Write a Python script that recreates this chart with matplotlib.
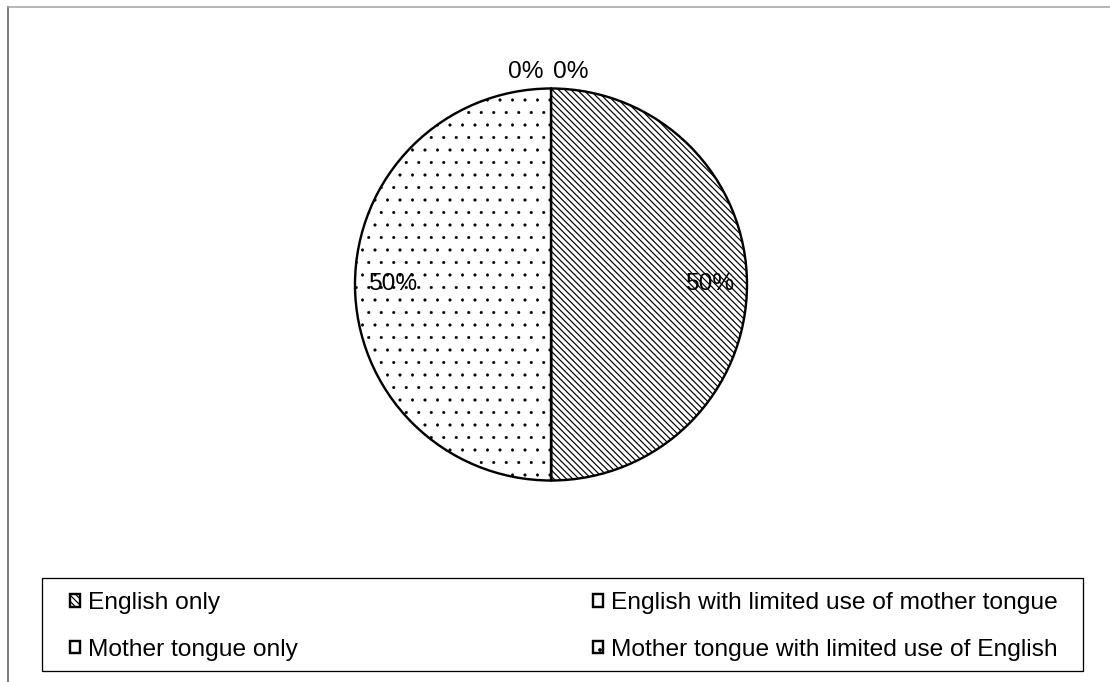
import matplotlib.pyplot as plt
from matplotlib.lines import Line2D
from matplotlib.patches import Rectangle

categories = ['English only', 'English with limited use of mother tongue',
              'Mother tongue only', 'Mother tongue with limited use of English']
shares = [50, 0, 0, 50]
BACKSLASH = chr(92)
hatches = [BACKSLASH * 8, '', '', '..']
hatch_widths = [1.2, 1.2, 1.2, 0.5]   # px

DPI = 150
W, H = 1110, 682
FONT_PX = 24.5


def pt(px):
    # pixel size -> points at the figure dpi
    return px * 72 / DPI


plt.rcParams['font.family'] = ['Liberation Sans', 'DejaVu Sans']
plt.rcParams['hatch.color'] = 'black'
plt.rcParams['hatch.linewidth'] = pt(1.2)

fig = plt.figure(figsize=(W / DPI, H / DPI), dpi=DPI)

# pie centre and radius in pixels
cx, cy, r = 551, 284.5, 196
lim = 1.05
side = 2 * lim * r
ax = fig.add_axes([(cx - side / 2) / W, (H - cy - side / 2) / H, side / W, side / H])

wedges, texts, autotexts = ax.pie(
    shares, startangle=90, counterclock=False, colors=['white'] * 4,
    autopct='%.0f%%', pctdistance=0.81,
    wedgeprops=dict(edgecolor='black', linewidth=pt(2.4)),
    textprops=dict(fontsize=pt(FONT_PX), color='black'))
for w, h, hw in zip(wedges, hatches, hatch_widths):
    w.set_hatch(h)
    if hasattr(w, 'set_hatch_linewidth'):
        w.set_hatch_linewidth(pt(hw))
ax.set_xlim(-lim, lim)
ax.set_ylim(-lim, lim)

# the two empty slices get their labels above the pie
autotexts[1].set_position((-0.04, 1.054))
autotexts[1].set_ha('right')
autotexts[1].set_va('baseline')
autotexts[2].set_position((0.01, 1.054))
autotexts[2].set_ha('left')
autotexts[2].set_va('baseline')

# legend, two columns, row-major order
order = [0, 2, 1, 3]
fig.legend([wedges[i] for i in order], [categories[i] for i in order],
           ncol=2, mode='expand', loc='center',
           bbox_to_anchor=(70 / W, 1 - 675 / H, (1058 - 70) / W, (675 - 578) / H),
           frameon=False, borderpad=0, borderaxespad=0, fontsize=pt(FONT_PX),
           handlelength=0.4, handleheight=0.4, handletextpad=0.35,
           labelspacing=1.0)
fig.add_artist(Rectangle((42 / W, 1 - 671 / H), (1083 - 42) / W, (671 - 578) / H,
                         transform=fig.transFigure, fill=False,
                         edgecolor='black', linewidth=pt(1.3)))

# chart area border
fig.add_artist(Line2D([8 / W, 8 / W], [0, 1 - 7 / H], color='#7f7f7f',
                      lw=pt(2), transform=fig.transFigure))
fig.add_artist(Line2D([8 / W, 1], [1 - 7 / H, 1 - 7 / H], color='#a0a0a0',
                      lw=pt(1.5), transform=fig.transFigure))

fig.savefig('out.png', dpi=DPI)
